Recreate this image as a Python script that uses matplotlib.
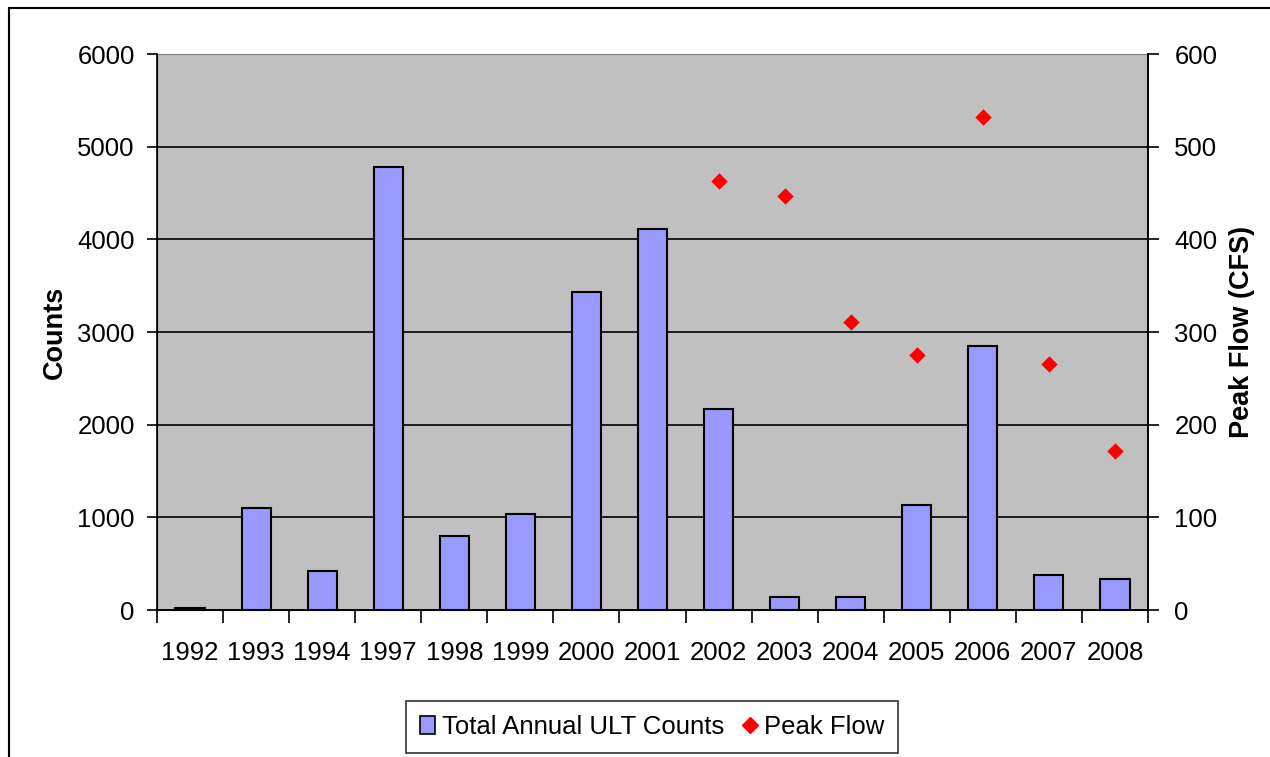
import numpy as np
import matplotlib.pyplot as plt
from matplotlib.patches import Rectangle
from matplotlib.lines import Line2D

plt.rcParams["font.family"] = ["Liberation Sans", "DejaVu Sans"]

# -------------------------------
# Data
# -------------------------------
years = ["1992", "1993", "1994", "1997", "1998", "1999", "2000", "2001",
         "2002", "2003", "2004", "2005", "2006", "2007", "2008"]
counts = [20, 1105, 420, 4780, 800, 1035, 3435, 4115,
          2170, 140, 140, 1135, 2850, 380, 335]
flow_years = ["2002", "2003", "2004", "2005", "2006", "2007", "2008"]
peak_flow = [463, 447, 311, 275, 532, 265, 172]

# -------------------------------
# Figure
# -------------------------------
W, H = 1270, 757
fig = plt.figure(figsize=(W / 100, H / 100), dpi=100)
FS = 18.5

# outer chart frame (cut at right/bottom like the original)
fig.patches.append(Rectangle((9 / W, -0.01), 1.02, 1 - 8 / H + 0.01,
                             transform=fig.transFigure, fill=False,
                             edgecolor="black", linewidth=1.5))

ax = fig.add_axes([157 / W, 1 - 610 / H, (1148 - 157) / W, (610 - 54) / H])
ax.set_facecolor("#C0C0C0")

x = np.arange(len(years))
ax.bar(x, counts, width=0.44, color="#9999FF", edgecolor="black",
       linewidth=1.5, zorder=3)

ax.set_xlim(-0.5, len(years) - 0.5)
ax.set_ylim(0, 6000)
ax.set_yticks(np.arange(0, 6001, 1000))
ax.yaxis.grid(True, color="black", linewidth=1.2)
ax.set_axisbelow(True)

ax.set_xticks(x)
ax.set_xticklabels(years)
ax.set_xticks(np.arange(-0.5, len(years), 1), minor=True)
ax.tick_params(axis="x", which="major", length=0, pad=22, labelsize=FS)
ax.tick_params(axis="x", which="minor", length=9, width=1.2)
ax.tick_params(axis="y", length=7, width=1.2, pad=9, labelsize=FS)
ax.set_ylabel("Counts", fontsize=19.5, fontweight="bold", labelpad=7)

for s in ["left", "bottom"]:
    ax.spines[s].set_linewidth(1.2)
ax.spines["top"].set_color("#808080")
ax.spines["right"].set_linewidth(1.2)

# -------------------------------
# Secondary axis: peak flow
# -------------------------------
ax2 = ax.twinx()
fx = [years.index(y) for y in flow_years]
ax2.scatter(fx, peak_flow, marker="D", s=70, color="#FF0000", zorder=4,
            linewidths=0)
ax2.set_ylim(0, 600)
ax2.set_yticks(np.arange(0, 601, 100))
ax2.tick_params(axis="y", length=8, width=1.2, pad=11, labelsize=FS)
ax2.set_ylabel("Peak Flow (CFS)", fontsize=19.5, fontweight="bold", labelpad=8)
ax2.spines["top"].set_visible(False)
ax2.spines["right"].set_linewidth(1.2)

# -------------------------------
# Legend
# -------------------------------
handles = [
    Rectangle((0, 0), 1, 1, facecolor="#9999FF", edgecolor="black", linewidth=1.2),
    Line2D([], [], marker="D", color="#FF0000", linestyle="none", markersize=8),
]
leg = fig.legend(handles, ["Total Annual ULT Counts", "Peak Flow"],
                 loc="center", bbox_to_anchor=(652 / W, 1 - 727 / H),
                 ncol=2, frameon=True, fancybox=False, fontsize=FS,
                 handlelength=0.6, handleheight=0.7, handletextpad=0.25,
                 columnspacing=0.7, borderpad=0.55, borderaxespad=0,
                 edgecolor="black")
leg.get_frame().set_linewidth(1.2)

fig.savefig("out.png", dpi=100)
plt.close(fig)
